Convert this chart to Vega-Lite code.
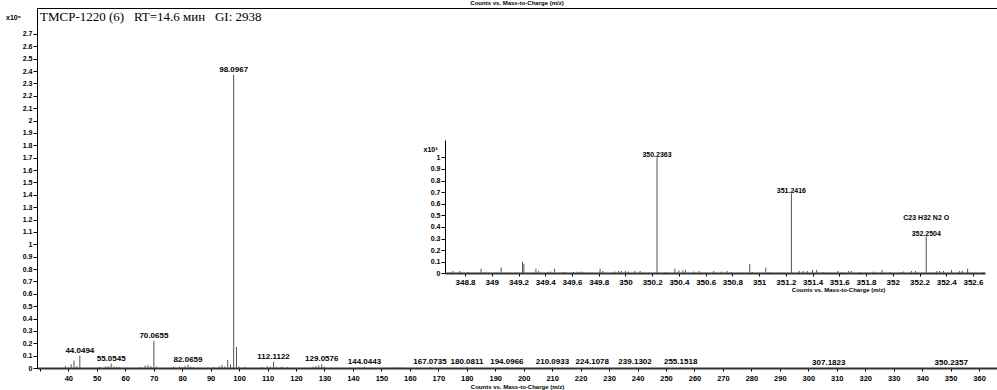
{
  "$schema": "https://vega.github.io/schema/vega-lite/v6.json",
  "width": 960,
  "height": 360,
  "autosize": {"type": "none"},
  "padding": {"left": 37, "top": 8, "right": 0, "bottom": 22},
  "background": "white",
  "config": {
    "view": {"stroke": "#000", "strokeWidth": 1},
    "font": "Liberation Sans",
    "axis": {"grid": false, "labelOverlap": false, "labelBound": false, "labelFlush": false, "labelFont": "Liberation Sans", "labelFontWeight": "bold", "labelColor": "#000", "titleColor": "#000", "domainColor": "#000", "tickColor": "#000", "titleFont": "Liberation Sans", "titleFontWeight": "bold"},
    "axisX": {"labelOverlap": false},
    "axisY": {"labelOverlap": false}
  },
  "title": {"text": "Counts vs. Mass-to-Charge (m/z)", "fontSize": 6, "fontWeight": "bold", "offset": 2, "anchor": "middle", "color": "#000"},
  "datasets": {
    "main": [
      {"mz": 39, "i": 0.015}, {"mz": 41, "i": 0.03}, {"mz": 42, "i": 0.06}, {"mz": 43, "i": 0.015},
      {"mz": 44.0494, "i": 0.10, "label": "44.0494"},
      {"mz": 51, "i": 0.008}, {"mz": 53, "i": 0.012}, {"mz": 54, "i": 0.015},
      {"mz": 55.0545, "i": 0.035, "label": "55.0545"},
      {"mz": 56, "i": 0.012}, {"mz": 57, "i": 0.01}, {"mz": 58, "i": 0.008}, {"mz": 65, "i": 0.008},
      {"mz": 67, "i": 0.02}, {"mz": 68, "i": 0.025}, {"mz": 69, "i": 0.015},
      {"mz": 70.0655, "i": 0.22, "label": "70.0655"},
      {"mz": 71, "i": 0.012}, {"mz": 77, "i": 0.01}, {"mz": 79, "i": 0.012}, {"mz": 80, "i": 0.008}, {"mz": 81, "i": 0.015},
      {"mz": 82.0659, "i": 0.025, "label": "82.0659"},
      {"mz": 83, "i": 0.01}, {"mz": 84, "i": 0.005}, {"mz": 91, "i": 0.008}, {"mz": 93, "i": 0.015},
      {"mz": 94, "i": 0.025}, {"mz": 95, "i": 0.012}, {"mz": 96, "i": 0.065}, {"mz": 97, "i": 0.03},
      {"mz": 98.0967, "i": 2.37, "label": "98.0967"},
      {"mz": 99.1, "i": 0.17}, {"mz": 100, "i": 0.012}, {"mz": 102, "i": 0.01}, {"mz": 108, "i": 0.008},
      {"mz": 110, "i": 0.015}, {"mz": 111, "i": 0.01},
      {"mz": 112.1122, "i": 0.05, "label": "112.1122"},
      {"mz": 113, "i": 0.01}, {"mz": 115, "i": 0.012}, {"mz": 117, "i": 0.008},
      {"mz": 126, "i": 0.01}, {"mz": 127, "i": 0.015}, {"mz": 128, "i": 0.02},
      {"mz": 129.0576, "i": 0.03, "label": "129.0576"},
      {"mz": 130, "i": 0.012}, {"mz": 142, "i": 0.005},
      {"mz": 144.0443, "i": 0.01, "label": "144.0443"},
      {"mz": 152, "i": 0.005}, {"mz": 154, "i": 0.005}, {"mz": 155, "i": 0.005}, {"mz": 156, "i": 0.005}, {"mz": 157, "i": 0.005}, {"mz": 158, "i": 0.005},
      {"mz": 167.0735, "i": 0.008, "label": "167.0735"},
      {"mz": 180.0811, "i": 0.01, "label": "180.0811"},
      {"mz": 194.0966, "i": 0.006, "label": "194.0966"},
      {"mz": 210.0933, "i": 0.005, "label": "210.0933"},
      {"mz": 224.1078, "i": 0.008, "label": "224.1078"},
      {"mz": 239.1302, "i": 0.006, "label": "239.1302"},
      {"mz": 255.1518, "i": 0.006, "label": "255.1518"},
      {"mz": 307.1823, "i": 0.004, "label": "307.1823"},
      {"mz": 350.2357, "i": 0.004, "label": "350.2357"}
    ],
    "inset": [
      {"mz": 348.71, "i": 0.02}, {"mz": 348.76, "i": 0.02}, {"mz": 348.82, "i": 0.01}, {"mz": 348.92, "i": 0.04},
      {"mz": 348.95, "i": 0.01}, {"mz": 349.07, "i": 0.05}, {"mz": 349.23, "i": 0.10}, {"mz": 349.24, "i": 0.08},
      {"mz": 349.33, "i": 0.04}, {"mz": 349.35, "i": 0.02}, {"mz": 349.42, "i": 0.01}, {"mz": 349.44, "i": 0.015},
      {"mz": 349.47, "i": 0.04}, {"mz": 349.53, "i": 0.01}, {"mz": 349.55, "i": 0.01}, {"mz": 349.61, "i": 0.012},
      {"mz": 349.64, "i": 0.015}, {"mz": 349.67, "i": 0.015}, {"mz": 349.69, "i": 0.012}, {"mz": 349.81, "i": 0.04},
      {"mz": 349.83, "i": 0.02}, {"mz": 349.92, "i": 0.015}, {"mz": 349.95, "i": 0.02}, {"mz": 349.97, "i": 0.02},
      {"mz": 350.0, "i": 0.02}, {"mz": 350.02, "i": 0.015}, {"mz": 350.07, "i": 0.02}, {"mz": 350.11, "i": 0.02},
      {"mz": 350.2363, "i": 1.0, "label": "350.2363"},
      {"mz": 350.30, "i": 0.01}, {"mz": 350.37, "i": 0.04}, {"mz": 350.40, "i": 0.025}, {"mz": 350.43, "i": 0.025},
      {"mz": 350.45, "i": 0.03}, {"mz": 350.51, "i": 0.015}, {"mz": 350.55, "i": 0.02}, {"mz": 350.66, "i": 0.02},
      {"mz": 350.72, "i": 0.015}, {"mz": 350.76, "i": 0.02}, {"mz": 350.79, "i": 0.01}, {"mz": 350.93, "i": 0.08},
      {"mz": 350.95, "i": 0.01}, {"mz": 351.05, "i": 0.05}, {"mz": 351.08, "i": 0.01},
      {"mz": 351.2416, "i": 0.69, "label": "351.2416"},
      {"mz": 351.30, "i": 0.02}, {"mz": 351.33, "i": 0.02}, {"mz": 351.36, "i": 0.02}, {"mz": 351.40, "i": 0.03},
      {"mz": 351.43, "i": 0.03}, {"mz": 351.48, "i": 0.01}, {"mz": 351.59, "i": 0.02}, {"mz": 351.62, "i": 0.01},
      {"mz": 351.67, "i": 0.02}, {"mz": 351.69, "i": 0.02}, {"mz": 351.76, "i": 0.01}, {"mz": 351.86, "i": 0.015},
      {"mz": 351.92, "i": 0.03}, {"mz": 351.98, "i": 0.01}, {"mz": 352.06, "i": 0.01}, {"mz": 352.08, "i": 0.015},
      {"mz": 352.14, "i": 0.02}, {"mz": 352.17, "i": 0.02},
      {"mz": 352.2504, "i": 0.32, "label": "352.2504", "formula": "C23 H32 N2 O"},
      {"mz": 352.33, "i": 0.02}, {"mz": 352.35, "i": 0.02}, {"mz": 352.38, "i": 0.02}, {"mz": 352.44, "i": 0.03},
      {"mz": 352.50, "i": 0.02}, {"mz": 352.52, "i": 0.02}, {"mz": 352.56, "i": 0.04}, {"mz": 352.68, "i": 0.01}
    ]
  },
  "layer": [
    {
      "data": {"name": "main"},
      "encoding": {
        "x": {"field": "mz", "type": "quantitative",
          "scale": {"domain": [29, 366.3], "nice": false, "zero": false},
          "axis": {"orient": "bottom", "values": [30,40,50,60,70,80,90,100,110,120,130,140,150,160,170,180,190,200,210,220,230,240,250,260,270,280,290,300,310,320,330,340,350,360],
            "labelOverlap": false, "labelSeparation": 0,
            "labelExpr": "datum.value < 35 ? '' : datum.label", "labelFontSize": 7.5, "tickSize": 3, "labelPadding": 3,
            "domainColor": "#333", "domainWidth": 2,
            "title": "Counts vs. Mass-to-Charge (m/z)", "titleFontSize": 6, "titleY": 18, "titleBaseline": "middle"}},
        "y": {"field": "i", "type": "quantitative",
          "scale": {"domain": [0, 2.91], "nice": false, "zero": true},
          "axis": {"orient": "left", "values": [0,0.1,0.2,0.3,0.4,0.5,0.6,0.7,0.8,0.9,1,1.1,1.2,1.3,1.4,1.5,1.6,1.7,1.8,1.9,2,2.1,2.2,2.3,2.4,2.5,2.6,2.7],
            "labelOverlap": false, "labelSeparation": 0,
            "format": ".1~f", "labelFontSize": 7, "tickSize": 4, "labelPadding": 1,
            "title": "x10⁶", "titleAngle": 0, "titleX": -24, "titleY": 9, "titleAlign": "center", "titleBaseline": "middle", "titleFontSize": 7}}
      },
      "layer": [
        {
          "mark": {"type": "rule", "color": "#555", "strokeWidth": 1},
          "encoding": {"y2": {"datum": 0}}
        },
        {
          "transform": [{"filter": "datum.label"}],
          "mark": {"type": "text", "fontSize": 8, "fontWeight": "bold", "font": "Liberation Sans", "baseline": "bottom", "dy": -1, "color": "#000"},
          "encoding": {"text": {"field": "label"}}
        },
        {
          "data": {"values": [{"mz": 30.05, "i": 2.84, "t": "TMCP-1220 (6)\u00a0\u00a0 RT=14.6 мин\u00a0\u00a0 GI: 2938"}]},
          "mark": {"type": "text", "fontSize": 13, "font": "Liberation Serif", "align": "left", "baseline": "middle", "color": "#000"},
          "encoding": {"text": {"field": "t"}}
        }
      ]
    },
    {
      "data": {"name": "inset"},
      "encoding": {
        "x": {"field": "mz", "type": "quantitative",
          "scale": {"domain": [348.65, 352.69], "range": [408, 948], "nice": false, "zero": false},
          "axis": {"orient": "bottom", "offset": -95, "values": [348.8,349,349.2,349.4,349.6,349.8,350,350.2,350.4,350.6,350.8,351,351.2,351.4,351.6,351.8,352,352.2,352.4,352.6],
            "labelOverlap": false, "labelSeparation": 0,
            "format": ".1~f", "labelFontSize": 8, "tickSize": 3, "labelPadding": 2,
            "domainColor": "#333", "domainWidth": 2,
            "title": "Counts vs. Mass-to-Charge (m/z)", "titleFontSize": 6, "titleX": 801, "titleY": 16, "titleBaseline": "middle", "titleAlign": "center"}},
        "y": {"field": "i", "type": "quantitative",
          "scale": {"domain": [0, 1.15], "range": [265.3, 132], "nice": false, "zero": true},
          "axis": {"orient": "left", "offset": -408, "values": [0,0.1,0.2,0.3,0.4,0.5,0.6,0.7,0.8,0.9,1],
            "labelOverlap": false, "labelSeparation": 0,
            "format": ".1~f", "labelFontSize": 7, "tickSize": 4, "labelPadding": 1,
            "title": "x10³", "titleAngle": 0, "titleX": -15, "titleY": 141, "titleAlign": "center", "titleBaseline": "middle", "titleFontSize": 7}}
      },
      "layer": [
        {
          "mark": {"type": "rule", "color": "#555", "strokeWidth": 1},
          "encoding": {"y2": {"datum": 0}}
        },
        {
          "transform": [{"filter": "datum.label"}],
          "mark": {"type": "text", "fontSize": 7, "fontWeight": "bold", "font": "Liberation Sans", "baseline": "bottom", "dy": 1, "color": "#000"},
          "encoding": {"text": {"field": "label"}}
        },
        {
          "transform": [{"filter": "datum.formula"}],
          "mark": {"type": "text", "fontSize": 7, "fontWeight": "bold", "font": "Liberation Sans", "baseline": "bottom", "dy": -15, "color": "#000"},
          "encoding": {"text": {"field": "formula"}}
        }
      ]
    }
  ],
  "resolve": {"scale": {"x": "independent", "y": "independent"}, "axis": {"x": "independent", "y": "independent"}}
}
